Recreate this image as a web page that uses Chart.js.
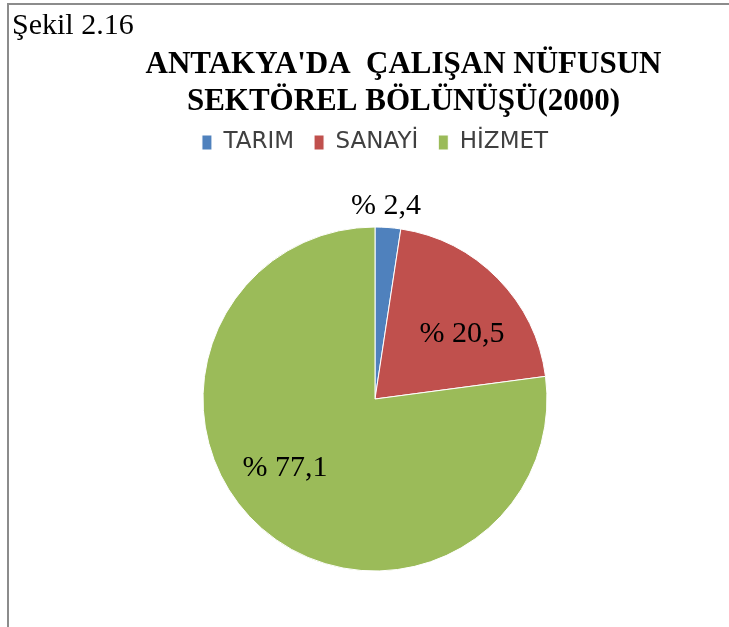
<!DOCTYPE html>
<html>
<head>
<meta charset="utf-8">
<script src="https://cdn.jsdelivr.net/npm/chart.js@4.4.1/dist/chart.umd.min.js"></script>
<style>
html,body{margin:0;padding:0;background:#fff;overflow:hidden;}
#wrap{position:relative;width:729px;height:627px;overflow:hidden;}
</style>
</head>
<body>
<div id="wrap"><canvas id="c" width="729" height="640"></canvas></div>
<script>
const figureLabel = 'Şekil 2.16';
const titleLines = ["ANTAKYA'DA  ÇALIŞAN NÜFUSUN", 'SEKTÖREL BÖLÜNÜŞÜ(2000)'];
const categories = ['TARIM', 'SANAYİ', 'HİZMET'];
const values = [2.4, 20.5, 77.1];
const colors = ['#4F81BD', '#C0504D', '#9BBB59'];

// label placement: [fraction along slice angle, fraction of radius]
const labelPlacement = [[0.37, 1.138], [0.59, 0.64], [0.543, 0.654]];

const decor = {
  id: 'decor',
  beforeDraw(chart) {
    const ctx = chart.ctx;
    ctx.save();
    ctx.fillStyle = '#fff';
    ctx.fillRect(0, 0, chart.width, chart.height);
    ctx.strokeStyle = '#8c8c8c';
    ctx.lineWidth = 2;
    ctx.beginPath();
    ctx.moveTo(8, chart.height);
    ctx.lineTo(8, 4);
    ctx.lineTo(chart.width, 4);
    ctx.stroke();
    ctx.fillStyle = '#000';
    ctx.textBaseline = 'alphabetic';
    ctx.textAlign = 'left';
    ctx.font = '30px "Liberation Serif", "Times New Roman", serif';
    ctx.fillText(figureLabel, 12, 34);
    ctx.textAlign = 'center';
    ctx.font = 'bold 31px "Liberation Serif", "Times New Roman", serif';
    ctx.fillText(titleLines[0], 403.5, 73);
    ctx.fillText(titleLines[1], 403.5, 110);
    ctx.restore();
  },
  afterDatasetsDraw(chart) {
    const ctx = chart.ctx;
    const meta = chart.getDatasetMeta(0);
    ctx.save();
    ctx.font = '30px "Liberation Serif", "Times New Roman", serif';
    ctx.fillStyle = '#000';
    ctx.textAlign = 'center';
    ctx.textBaseline = 'alphabetic';
    meta.data.forEach((arc, i) => {
      const p = arc.getProps(['x', 'y', 'startAngle', 'endAngle', 'outerRadius'], true);
      const [fa, fr] = labelPlacement[i];
      const a = p.startAngle + fa * (p.endAngle - p.startAngle);
      const r = fr * p.outerRadius;
      const x = p.x + Math.cos(a) * r;
      const y = p.y + Math.sin(a) * r;
      const txt = '% ' + String(values[i]).replace('.', ',');
      ctx.fillText(txt, x, y + 10);
    });
    ctx.restore();
  }
};

new Chart(document.getElementById('c'), {
  type: 'pie',
  data: {
    labels: categories,
    datasets: [{
      data: values,
      backgroundColor: colors,
      borderColor: '#ffffff',
      borderWidth: 1,
      radius: 172
    }]
  },
  options: {
    responsive: false,
    animation: false,
    devicePixelRatio: 1,
    layout: { padding: { top: 111, left: 21, right: 0, bottom: 6 } },
    plugins: {
      title: { display: false },
      tooltip: { enabled: false },
      legend: {
        display: true,
        position: 'top',
        labels: {
          boxWidth: 10,
          boxHeight: 15,
          padding: 20,
          color: '#404040',
          font: { family: '"DejaVu Sans", sans-serif', size: 23 }
        }
      }
    }
  },
  plugins: [decor]
});
</script>
</body>
</html>
